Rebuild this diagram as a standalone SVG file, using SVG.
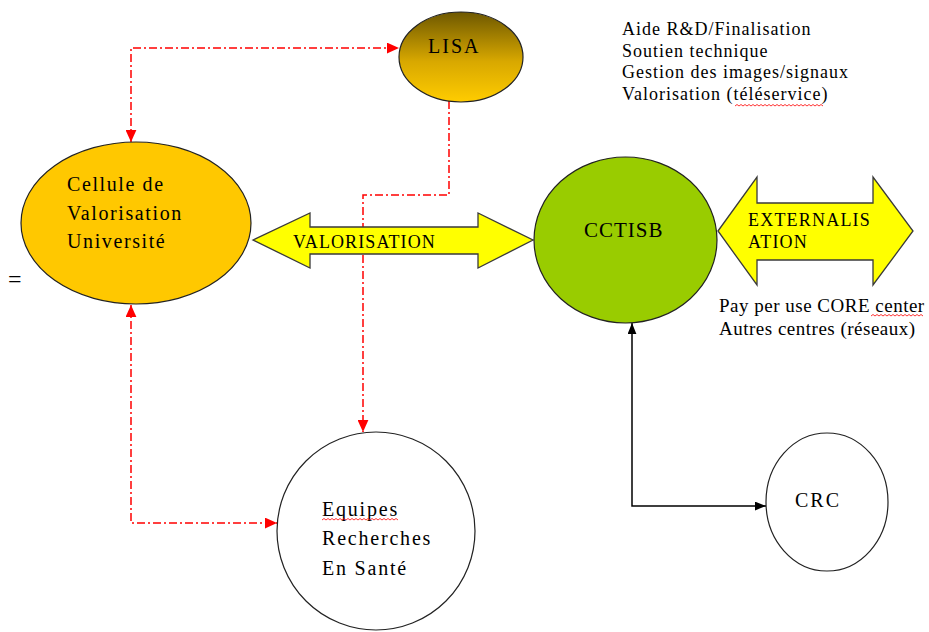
<svg xmlns="http://www.w3.org/2000/svg" width="929" height="632" viewBox="0 0 929 632">
<style>
  text { font-family: "Liberation Serif", "DejaVu Serif", serif; fill: #000; }
  .t20 { font-size: 20px; letter-spacing: 1.6px; }
  .t18 { font-size: 18px; letter-spacing: 1px; }
  .cap { font-size: 18px; letter-spacing: 1.1px; }
  .node { stroke: #222; stroke-width: 1.2; }
  .big { fill: #ffff00; stroke: #3a3a3a; stroke-width: 1.3; }
  .red { fill: none; stroke: #ff0000; stroke-width: 1.5; stroke-dasharray: 8 3 2 3; }
  .blk { fill: none; stroke: #000; stroke-width: 1.5; }
  .sq { fill: none; stroke: #ff0000; stroke-width: 0.8; }
</style>
<defs>
  <linearGradient id="lisaGrad" x1="0" y1="0" x2="0" y2="1">
    <stop offset="0" stop-color="#6e5800"/>
    <stop offset="0.55" stop-color="#d8a800"/>
    <stop offset="1" stop-color="#ffcc00"/>
  </linearGradient>
  <marker id="ar" viewBox="0 0 10 9" refX="10" refY="4.5" markerWidth="12" markerHeight="11" markerUnits="userSpaceOnUse" orient="auto-start-reverse">
    <path d="M0,0 L10,4.5 L0,9 z" fill="#ff0000"/>
  </marker>
  <marker id="ab" viewBox="0 0 10 8" refX="10" refY="4" markerWidth="11" markerHeight="9" markerUnits="userSpaceOnUse" orient="auto-start-reverse">
    <path d="M0,0 L10,4 L0,8 z" fill="#000"/>
  </marker>
</defs>
<rect width="929" height="632" fill="#fff"/>

<g id="connectors">
  <path class="red" d="M131,142 L131,48 L399,48" marker-start="url(#ar)" marker-end="url(#ar)"/>
  <path class="red" d="M449,101 L449,195 L363,195 L363,432" marker-end="url(#ar)"/>
  <path class="red" d="M131,305 L131,523 L277,523" marker-start="url(#ar)" marker-end="url(#ar)"/>
  <path class="blk" d="M632,323 L632,506 L766,506" marker-start="url(#ab)" marker-end="url(#ab)"/>
</g>

<g id="lisa">
  <ellipse class="node" cx="461" cy="57" rx="62" ry="45" fill="url(#lisaGrad)"/>
  <text class="t20" x="428" y="53" style="letter-spacing:2px">LISA</text>
</g>

<g id="cellule">
  <ellipse class="node" cx="136" cy="223" rx="115" ry="81" fill="#ffc800"/>
  <text class="t20" x="67" y="191">Cellule de</text>
  <text class="t20" x="67" y="220">Valorisation</text>
  <text class="t20" x="67" y="248">Université</text>
</g>

<g id="equals">
  <text x="8" y="287" style="font-size:24px">=</text>
</g>

<g id="valorisation">
  <polygon class="big" points="253,240 310,213 310,227 478,227 478,213 533,240 478,268 478,254 310,254 310,268"/>
  <text class="cap" x="293" y="248">VALORISATION</text>
</g>

<g id="cctisb">
  <ellipse class="node" cx="625.5" cy="240" rx="91.5" ry="83" fill="#99cc00"/>
  <text class="t20" x="584" y="237" style="font-size:21px;letter-spacing:1px">CCTISB</text>
</g>

<g id="externalisation">
  <polygon class="big" points="718,231 757,177 757,203 873,203 873,177 913,231 873,285 873,260 757,260 757,285"/>
  <text class="cap" x="748" y="226" style="letter-spacing:1.2px">EXTERNALIS</text>
  <text class="cap" x="748" y="248" style="letter-spacing:1.2px">ATION</text>
</g>

<g id="services">
  <text class="t18" x="622" y="35">Aide R&amp;D/Finalisation</text>
  <text class="t18" x="622" y="57">Soutien technique</text>
  <text class="t18" x="622" y="78">Gestion des images/signaux</text>
  <text class="t18" x="622" y="100">Valorisation (téléservice)</text>
  <path class="sq" d="M735,106 l2,-1.5 l2,1.5 l2,-1.5 l2,1.5 l2,-1.5 l2,1.5 l2,-1.5 l2,1.5 l2,-1.5 l2,1.5 l2,-1.5 l2,1.5 l2,-1.5 l2,1.5 l2,-1.5 l2,1.5 l2,-1.5 l2,1.5 l2,-1.5 l2,1.5 l2,-1.5 l2,1.5 l2,-1.5 l2,1.5 l2,-1.5 l2,1.5 l2,-1.5 l2,1.5 l2,-1.5 l2,1.5 l2,-1.5 l2,1.5 l2,-1.5 l2,1.5 l2,-1.5 l2,1.5 l2,-1.5 l2,1.5 l2,-1.5 l2,1.5 l2,-1.5 l2,1.5 l2,-1.5 l2,1.5"/>
</g>

<g id="externes">
  <text x="719" y="312" style="font-size:19px;letter-spacing:0.5px">Pay per use CORE center</text>
  <text x="719" y="335" style="font-size:19px;letter-spacing:0.5px">Autres centres (réseaux)</text>
  <path class="sq" d="M871,316 l2,-1.5 l2,1.5 l2,-1.5 l2,1.5 l2,-1.5 l2,1.5 l2,-1.5 l2,1.5 l2,-1.5 l2,1.5 l2,-1.5 l2,1.5 l2,-1.5 l2,1.5 l2,-1.5 l2,1.5 l2,-1.5 l2,1.5 l2,-1.5 l2,1.5 l2,-1.5 l2,1.5 l2,-1.5 l2,1.5 l2,-1.5 l2,1.5"/>
</g>

<g id="equipes">
  <ellipse class="node" cx="376" cy="531" rx="99" ry="99" fill="#fff"/>
  <text class="t20" x="322" y="516" style="letter-spacing:1.8px">Equipes</text>
  <text class="t20" x="322" y="545" style="letter-spacing:1.8px">Recherches</text>
  <text class="t20" x="322" y="575" style="letter-spacing:1.8px">En Santé</text>
  <path class="sq" d="M322,520 l2,-1.5 l2,1.5 l2,-1.5 l2,1.5 l2,-1.5 l2,1.5 l2,-1.5 l2,1.5 l2,-1.5 l2,1.5 l2,-1.5 l2,1.5 l2,-1.5 l2,1.5 l2,-1.5 l2,1.5 l2,-1.5 l2,1.5 l2,-1.5 l2,1.5 l2,-1.5 l2,1.5 l2,-1.5 l2,1.5 l2,-1.5 l2,1.5 l2,-1.5 l2,1.5 l2,-1.5 l2,1.5 l2,-1.5 l2,1.5 l2,-1.5 l2,1.5 l2,-1.5 l2,1.5 l2,-1.5 l2,1.5"/>
</g>

<g id="crc">
  <ellipse class="node" cx="827" cy="502" rx="61" ry="69" fill="#fff"/>
  <text class="t20" x="795" y="507" style="letter-spacing:2px">CRC</text>
</g>
</svg>
